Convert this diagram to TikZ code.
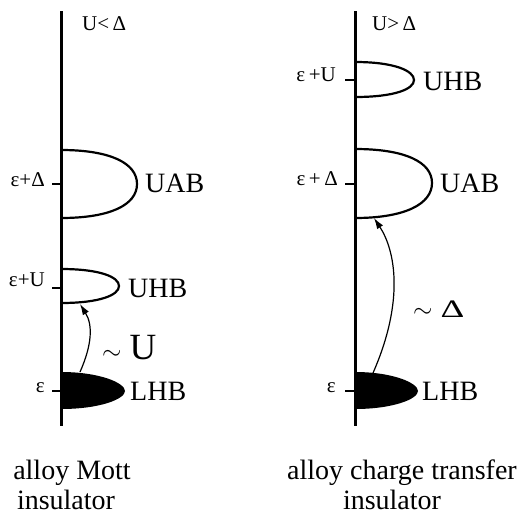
\documentclass[tikz,border=0pt]{standalone}
\usepackage{fontspec}
\setmainfont{Liberation Serif}
\usetikzlibrary{arrows.meta}
\begin{document}
\begin{tikzpicture}[x=1pt,y=-1pt,
  axisline/.style={line width=3pt},
  tickmark/.style={line width=2.5pt},
  band/.style={line width=2.2pt},
  lvl/.style={font=\fontsize{21}{23}\selectfont, inner sep=0pt},
  bandlbl/.style={font=\fontsize{28}{30}\selectfont, inner sep=0pt, anchor=base west},
  caption/.style={font=\fontsize{28}{30}\selectfont, align=center, inner sep=0pt, anchor=north},
  gaplbl/.style={inner sep=0pt, anchor=base west},
  excite/.style={line width=1.2pt, -{Latex[length=11pt,width=7pt]}}
]
\useasboundingbox (0,0) rectangle (522,517);

% ---------- left panel: alloy Mott insulator ----------
\draw[band] (61,150) .. controls (110,150) and (137,163) .. (137,184) .. controls (137,205) and (110,218) .. (61,218);
\draw[band] (61,269) .. controls (100,269) and (119,277) .. (119,286) .. controls (119,295) and (100,303) .. (61,303);
\fill (61,372) .. controls (100,372) and (125,383) .. (125,391) .. controls (125,399) and (100,409) .. (61,409) -- cycle;
\draw[axisline] (61,11) -- (61,426);
\draw[tickmark] (52,184) -- (61,184);
\draw[tickmark] (52,288) -- (61,288);
\draw[tickmark] (52,391) -- (61,391);

\node[lvl, anchor=base west] (Ltitle) at (82,30) {U<\,Δ};
\node[lvl, anchor=base east] (LlvlA) at (45,186) {ε+Δ};
\node[lvl, anchor=base east] (LlvlU) at (45,286) {ε+U};
\node[lvl, anchor=base east] (Llvl0) at (45,392) {ε};
\node[bandlbl] (LUAB) at (145,192) {UAB};
\node[bandlbl] (LUHB) at (128,297) {UHB};
\node[bandlbl] (LLHB) at (130,400) {LHB};
\node[gaplbl] (Lgap) at (102,359) {{\fontsize{31}{33}\selectfont$\sim$}\hspace{8pt}{\fontsize{37}{40}\selectfont U}};

\coordinate (Lfrom) at (80,372);
\coordinate (Lto) at (80,304);
\draw[excite] (Lfrom) .. controls (92,345) and (93,325) .. (Lto);

\node[caption] (Lcap) at (72,460) {alloy Mott\\\hspace*{-12pt}insulator};

% ---------- right panel: alloy charge transfer insulator ----------
\draw[band] (355,62) .. controls (395,62) and (414,71) .. (414,80) .. controls (414,89) and (395,97) .. (355,97);
\draw[band] (355,149) .. controls (405,149) and (432,162) .. (432,183) .. controls (432,204) and (405,218) .. (355,218);
\fill (355,372) .. controls (393,372) and (418,383) .. (418,391) .. controls (418,399) and (393,409) .. (355,409) -- cycle;
\draw[axisline] (355,11) -- (355,426);
\draw[tickmark] (345,80) -- (355,80);
\draw[tickmark] (345,184) -- (355,184);
\draw[tickmark] (345,391) -- (355,391);

\node[lvl, anchor=base west] (Rtitle) at (372,30) {U>\,Δ};
\node[lvl, anchor=base east] (RlvlU) at (336,81) {ε\,+U};
\node[lvl, anchor=base east] (RlvlA) at (338,185) {ε\,+\,Δ};
\node[lvl, anchor=base east] (Rlvl0) at (336,392) {ε};
\node[bandlbl] (RUHB) at (423,90) {UHB};
\node[bandlbl] (RUAB) at (440,192) {UAB};
\node[bandlbl] (RLHB) at (422,400) {LHB};
\node[gaplbl] (Rgap) at (413,317) {{\fontsize{31}{33}\selectfont$\sim$}\hspace{8pt}\scalebox{1}[0.68]{\fontsize{37}{40}\selectfont Δ}};

\coordinate (Rfrom) at (373,373);
\coordinate (Rto) at (374,218);
\draw[excite] (Rfrom) .. controls (405,300) and (395,250) .. (Rto);

\node[caption] (Rcap) at (402,460) {alloy charge transfer\\\hspace*{-20pt}insulator};
\end{tikzpicture}
\end{document}
